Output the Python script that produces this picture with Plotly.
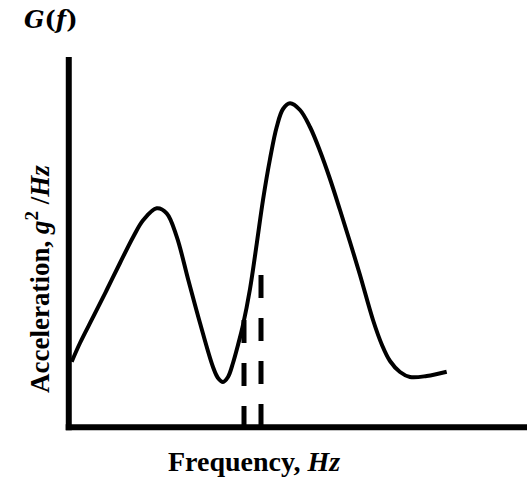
import plotly.graph_objects as go

# Curve (arbitrary units: frequency, acceleration)
freq = [3.7, 12, 25.3, 38.7, 52, 65.3, 75.3, 88.7, 98.7, 108.7, 120.3, 132, 145,
        150, 155, 160, 165, 170, 175, 182, 188.7, 195, 202, 208.7, 215, 222,
        232, 242, 252, 262, 272, 282, 292, 305, 314, 322, 332, 342, 358.7, 378.7]
accel = [65.3, 84, 110.3, 137, 164, 190.3, 207, 218.7, 213.7, 190.3, 147, 104, 60,
         49, 45, 50, 64, 82, 102, 138, 183, 227, 268, 300, 318, 323.7,
         317, 300, 276, 248, 217, 185, 152, 107, 82, 66, 55, 50, 51, 55.3]

# Two dashed vertical markers
marker_x = [176, 193]
marker_top = [107, 152]

x_range = [0, 459]
y_range = [0, 370]

fig = go.Figure()
fig.add_trace(go.Scatter(x=freq, y=accel, mode="lines",
                         line=dict(color="black", width=4, shape="spline", smoothing=1.0),
                         hoverinfo="skip", showlegend=False))
for mx, mt in zip(marker_x, marker_top):
    fig.add_trace(go.Scatter(x=[mx, mx], y=[mt, 0], mode="lines",
                             line=dict(color="black", width=5, dash="23px,20px"),
                             hoverinfo="skip", showlegend=False))

# axis lines
fig.add_shape(type="line", xref="paper", yref="paper", x0=0.0017, x1=0.0017,
              y0=-0.009, y1=1.0, line=dict(color="black", width=6))
fig.add_shape(type="line", xref="paper", yref="paper", x0=-0.005, x1=1.0,
              y0=-0.001, y1=-0.001, line=dict(color="black", width=6))

serif = "Liberation Serif"
fig.add_annotation(text="<b><i>G</i>(<i>f</i>)</b>", xref="paper", yref="paper",
                   x=(51 - 68) / 459, y=(427 - 20) / 370, showarrow=False,
                   xanchor="center", yanchor="middle",
                   font=dict(family="DejaVu Serif", size=24, color="black"))
fig.add_annotation(text="<b>Frequency, <i>Hz</i></b>", xref="paper", yref="paper",
                   x=(254 - 68) / 459, y=(427 - 462) / 370, showarrow=False,
                   xanchor="center", yanchor="middle",
                   font=dict(family=serif, size=28, color="black"))
fig.add_annotation(text="<b>Acceleration, <i>g</i><sup>2</sup> /<i>Hz</i></b>",
                   xref="paper", yref="paper", textangle=-90,
                   x=(38 - 68) / 459, y=(427 - 279) / 370, showarrow=False,
                   xanchor="center", yanchor="middle",
                   font=dict(family=serif, size=27, color="black"))

fig.update_layout(
    width=527, height=480,
    margin=dict(l=68, r=0, t=57, b=53),
    paper_bgcolor="white", plot_bgcolor="white",
    xaxis=dict(range=x_range, visible=False, fixedrange=True),
    yaxis=dict(range=y_range, visible=False, fixedrange=True),
)
fig.write_html("out.html", config={"displayModeBar": False},
               post_script="document.body.style.margin='0';document.body.style.overflow='hidden';")
